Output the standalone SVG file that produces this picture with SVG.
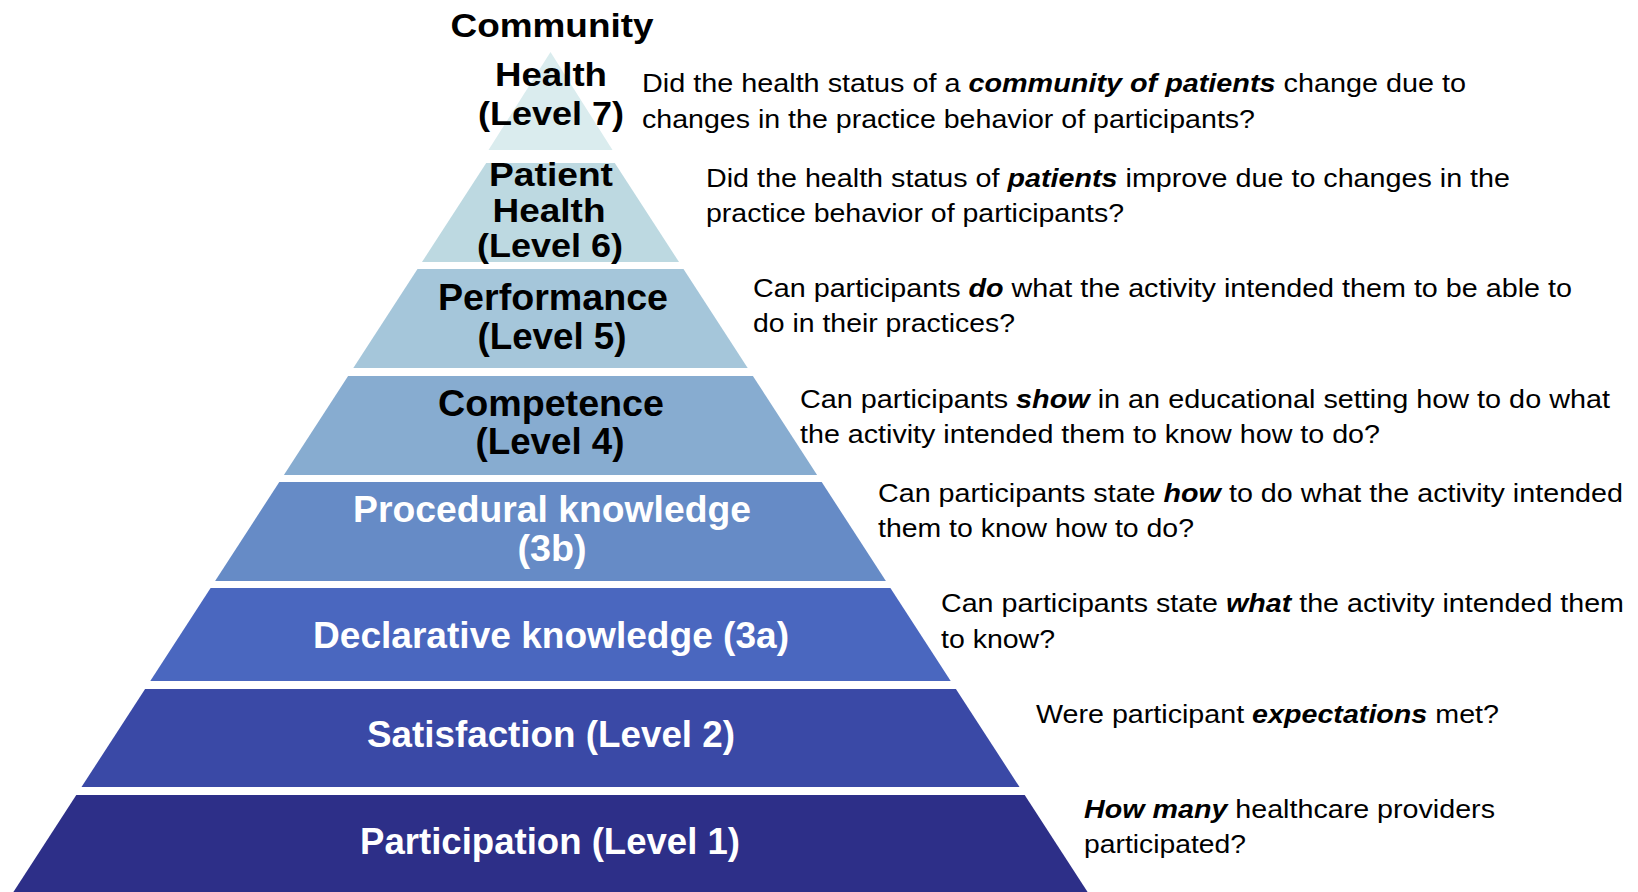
<svg xmlns="http://www.w3.org/2000/svg" width="1638" height="892" viewBox="0 0 1638 892">
<style>
.lbl{font-family:"Liberation Sans",Arial,sans-serif;font-weight:bold;font-size:36px;text-anchor:middle}
.lbs{font-size:34px}
.dk{fill:#000}
.wt{fill:#fff}
.desc{font-family:"Liberation Sans",Arial,sans-serif;font-size:25.5px;fill:#000}
.bi{font-weight:bold;font-style:italic}
</style>
<rect width="1638" height="892" fill="#fff"/>
<g id="connectors"/>
<g id="level7">
<polygon points="550.5,52 612.5,150 488.5,150" fill="#DAECEE"/>
<text class="lbl lbs dk" x="552" y="37" textLength="203" lengthAdjust="spacingAndGlyphs">Community</text>
<text class="lbl lbs dk" x="551" y="86" textLength="112" lengthAdjust="spacingAndGlyphs">Health</text>
<text class="lbl lbs dk" x="551" y="125" textLength="146" lengthAdjust="spacingAndGlyphs">(Level 7)</text>
<text class="desc" x="642" y="92" textLength="824" lengthAdjust="spacingAndGlyphs">Did the health status of a <tspan class="bi">community of patients</tspan> change due to</text>
<text class="desc" x="642" y="128" textLength="613" lengthAdjust="spacingAndGlyphs">changes in the practice behavior of participants?</text>
</g>
<g id="level6">
<polygon points="486.2,163 614.8,163 679,262 422,262" fill="#BDD9E1"/>
<text class="lbl lbs dk" x="551" y="186" textLength="124" lengthAdjust="spacingAndGlyphs">Patient</text>
<text class="lbl lbs dk" x="549" y="222" textLength="113" lengthAdjust="spacingAndGlyphs">Health</text>
<text class="lbl lbs dk" x="550" y="257" textLength="146" lengthAdjust="spacingAndGlyphs">(Level 6)</text>
<text class="desc" x="706" y="187" textLength="804" lengthAdjust="spacingAndGlyphs">Did the health status of <tspan class="bi">patients</tspan> improve due to changes in the</text>
<text class="desc" x="706" y="222" textLength="418" lengthAdjust="spacingAndGlyphs">practice behavior of participants?</text>
</g>
<g id="level5">
<polygon points="417.5,269 683.5,269 747.7,368 353.3,368" fill="#A5C6DA"/>
<text class="lbl dk" x="553" y="310" textLength="230" lengthAdjust="spacingAndGlyphs">Performance</text>
<text class="lbl dk" x="552" y="349" textLength="149" lengthAdjust="spacingAndGlyphs">(Level 5)</text>
<text class="desc" x="753" y="297" textLength="819" lengthAdjust="spacingAndGlyphs">Can participants <tspan class="bi">do</tspan> what the activity intended them to be able to</text>
<text class="desc" x="753" y="332" textLength="262" lengthAdjust="spacingAndGlyphs">do in their practices?</text>
</g>
<g id="level4">
<polygon points="348.1,376 752.9,376 817.1,475 283.9,475" fill="#87ACD0"/>
<text class="lbl dk" x="551" y="416" textLength="226" lengthAdjust="spacingAndGlyphs">Competence</text>
<text class="lbl dk" x="550" y="454" textLength="149" lengthAdjust="spacingAndGlyphs">(Level 4)</text>
<text class="desc" x="800" y="408" textLength="810" lengthAdjust="spacingAndGlyphs">Can participants <tspan class="bi">show</tspan> in an educational setting how to do what</text>
<text class="desc" x="800" y="443" textLength="580" lengthAdjust="spacingAndGlyphs">the activity intended them to know how to do?</text>
</g>
<g id="level3b">
<polygon points="279.3,482 821.7,482 885.9,581 215.1,581" fill="#668BC6"/>
<text class="lbl wt" x="552" y="522" textLength="398" lengthAdjust="spacingAndGlyphs">Procedural knowledge</text>
<text class="lbl wt" x="552" y="561" textLength="69" lengthAdjust="spacingAndGlyphs">(3b)</text>
<text class="desc" x="878" y="502" textLength="745" lengthAdjust="spacingAndGlyphs">Can participants state <tspan class="bi">how</tspan> to do what the activity intended</text>
<text class="desc" x="878" y="537" textLength="316" lengthAdjust="spacingAndGlyphs">them to know how to do?</text>
</g>
<g id="level3a">
<polygon points="210.6,588 890.4,588 950.7,681 150.3,681" fill="#4A67BF"/>
<text class="lbl wt" x="551" y="648" textLength="476" lengthAdjust="spacingAndGlyphs">Declarative knowledge (3a)</text>
<text class="desc" x="941" y="612" textLength="683" lengthAdjust="spacingAndGlyphs">Can participants state <tspan class="bi">what</tspan> the activity intended them</text>
<text class="desc" x="941" y="648" textLength="114" lengthAdjust="spacingAndGlyphs">to know?</text>
</g>
<g id="level2">
<polygon points="145.1,689 955.9,689 1019.5,787 81.5,787" fill="#3A49A6"/>
<text class="lbl wt" x="551" y="747" textLength="368" lengthAdjust="spacingAndGlyphs">Satisfaction (Level 2)</text>
<text class="desc" x="1036" y="723" textLength="463" lengthAdjust="spacingAndGlyphs">Were participant <tspan class="bi">expectations</tspan> met?</text>
</g>
<g id="level1">
<polygon points="76.3,795 1024.7,795 1087.6,892 13.4,892" fill="#2D2F88"/>
<text class="lbl wt" x="550" y="854" textLength="380" lengthAdjust="spacingAndGlyphs">Participation (Level 1)</text>
<text class="desc" x="1084" y="818" textLength="411" lengthAdjust="spacingAndGlyphs"><tspan class="bi">How many</tspan> healthcare providers</text>
<text class="desc" x="1084" y="853" textLength="162" lengthAdjust="spacingAndGlyphs">participated?</text>
</g>
</svg>
